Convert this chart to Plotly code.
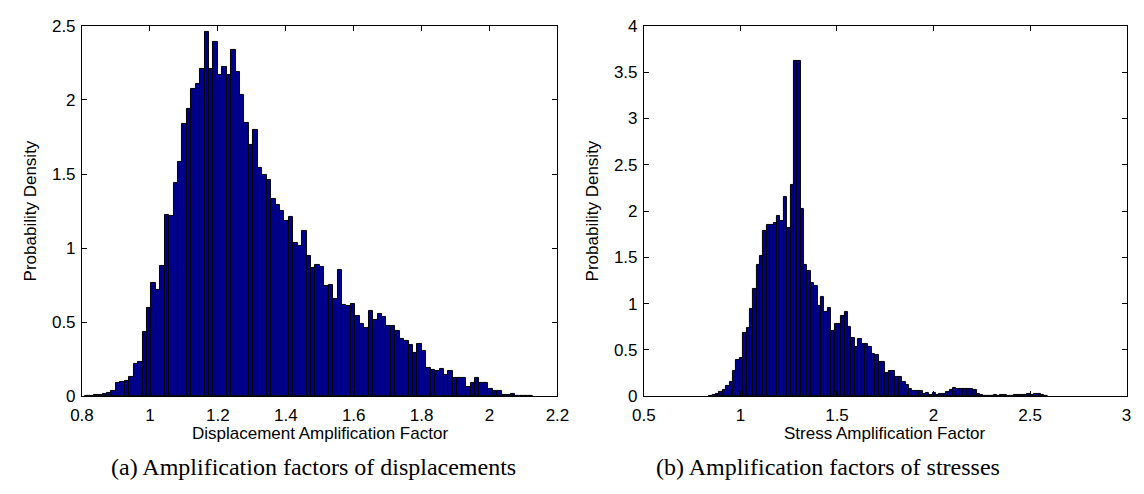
import numpy as np
import plotly.graph_objects as go

# ---- Data: (a) displacement amplification factor histogram (probability density) ----
disp_bin_start = 0.8084
disp_bin_width = 0.013055
disp_density = [
    0.002, 0.004, 0.005, 0.008, 0.017, 0.024, 0.032, 0.087, 0.097, 0.106,
    0.128, 0.216, 0.229, 0.433, 0.597, 0.764, 0.714, 0.879, 1.227, 1.219,
    1.442, 1.584, 1.835, 1.942, 2.074, 2.106, 2.210, 2.459, 2.210, 2.392,
    2.171, 2.225, 2.167, 2.336, 2.188, 2.037, 1.846, 1.699, 1.799, 1.541,
    1.496, 1.459, 1.335, 1.294, 1.253, 1.184, 1.208, 1.032, 1.013, 1.117,
    0.948, 0.866, 0.883, 0.872, 0.742, 0.749, 0.656, 0.851, 0.617, 0.610,
    0.621, 0.541, 0.489, 0.463, 0.576, 0.515, 0.558, 0.532, 0.474, 0.474,
    0.443, 0.383, 0.372, 0.343, 0.289, 0.354, 0.304, 0.191, 0.174, 0.167,
    0.187, 0.146, 0.172, 0.126, 0.120, 0.120, 0.063, 0.089, 0.120, 0.087,
    0.087, 0.048, 0.033, 0.033, 0.009, 0.009, 0.015, 0.002, 0.002, 0.003,
    0.002,
]

# ---- Data: (b) stress amplification factor histogram (probability density) ----
stress_bin_start = 0.8382
stress_bin_width = 0.01753
stress_density = [
    0.003, 0.010, 0.024, 0.045, 0.062, 0.114, 0.149, 0.270, 0.391, 0.416,
    0.679, 0.738, 0.939, 1.157, 1.420, 1.510, 1.780, 1.853, 1.849, 1.874,
    1.946, 1.894, 2.147, 1.818, 2.286, 3.620, 3.620, 2.026, 1.423, 1.351,
    1.223, 1.188, 0.980, 1.067, 0.911, 0.949, 0.703, 0.779, 0.779, 0.866,
    0.911, 0.752, 0.634, 0.530, 0.623, 0.561, 0.561, 0.530, 0.457, 0.450,
    0.374, 0.374, 0.253, 0.267, 0.277, 0.211, 0.211, 0.156, 0.121, 0.080,
    0.055, 0.052, 0.055, 0.024, 0.035, 0.014, 0.031, 0.010, 0.021, 0.021,
    0.045, 0.062, 0.090, 0.083, 0.083, 0.076, 0.076, 0.073, 0.062, 0.028,
    0.014, 0.003, 0.003, 0.005, 0.017, 0.007, 0.010, 0.010, 0.003, 0.005,
    0.017, 0.008, 0.017, 0.010, 0.024, 0.013, 0.020, 0.020, 0.017, 0.007,
]

disp_xticks = [0.8, 1, 1.2, 1.4, 1.6, 1.8, 2, 2.2]
disp_yticks = [0, 0.5, 1, 1.5, 2, 2.5]
stress_xticks = [0.5, 1, 1.5, 2, 2.5, 3]
stress_yticks = [0, 0.5, 1, 1.5, 2, 2.5, 3, 3.5, 4]

x_title_a = "Displacement Amplification Factor"
x_title_b = "Stress Amplification Factor"
y_title = "Probability Density"
caption_a = "(a) Amplification factors of displacements"
caption_b = "(b) Amplification factors of stresses"

# bin centers from bin edges
disp_x = disp_bin_start + disp_bin_width * (np.arange(len(disp_density)) + 0.5)
stress_x = stress_bin_start + stress_bin_width * (np.arange(len(stress_density)) + 0.5)

BAR_FILL = "#00008F"
SANS = "Liberation Sans, Arial, sans-serif"
SERIF = "Liberation Serif, Times New Roman, serif"

fig = go.Figure()
fig.add_trace(go.Bar(
    x=disp_x, y=disp_density, width=disp_bin_width,
    marker=dict(color=BAR_FILL, line=dict(color="black", width=1)),
    xaxis="x", yaxis="y", showlegend=False,
))
fig.add_trace(go.Bar(
    x=stress_x, y=stress_density, width=stress_bin_width,
    marker=dict(color=BAR_FILL, line=dict(color="black", width=1)),
    xaxis="x2", yaxis="y2", showlegend=False,
))

W, H = 1144, 494
y_dom = [1 - 394.3 / H, 1 - 9.3 / H]
xa_dom = [63.3 / W, 549 / W]
xb_dom = [637.3 / W, 1130.3 / W]

axis_common = dict(
    showline=True, linecolor="black", linewidth=1, mirror="ticks",
    ticks="inside", ticklen=5, tickcolor="black", tickwidth=1,
    showgrid=False, zeroline=False, ticklabeloverflow="allow",
)
x_font = dict(family=SANS, size=17, color="black")
y_font = dict(family=SANS, size=17, color="black")
title_font = dict(family=SANS, size=17, color="black")

fig.update_layout(
    width=W, height=H,
    margin=dict(l=0, r=0, t=0, b=0),
    paper_bgcolor="white", plot_bgcolor="white",
    bargap=0,
    xaxis=dict(domain=xa_dom, range=[0.8, 2.2], tickvals=disp_xticks,
               anchor="y", ticklabelstandoff=3, tickfont=x_font, **axis_common),
    yaxis=dict(domain=y_dom, range=[0, 2.5], tickvals=disp_yticks, anchor="x",
               ticklabelstandoff=2, tickfont=y_font,
               title=dict(text=y_title, font=title_font, standoff=10),
               **axis_common),
    xaxis2=dict(domain=xb_dom, range=[0.5, 3], tickvals=stress_xticks,
                anchor="y2", ticklabelstandoff=3, tickfont=x_font, **axis_common),
    yaxis2=dict(domain=y_dom, range=[0, 4], tickvals=stress_yticks, anchor="x2",
                ticklabelstandoff=2, tickfont=y_font,
                title=dict(text=y_title, font=title_font, standoff=10),
                **axis_common),
)

# x-axis titles placed just under the tick labels
for txt, dom in ((x_title_a, xa_dom), (x_title_b, xb_dom)):
    fig.add_annotation(text=txt, xref="paper", yref="paper",
                       x=(dom[0] + dom[1]) / 2, y=1 - 433 / H,
                       xanchor="center", yanchor="middle", showarrow=False,
                       font=title_font)

fig.add_annotation(text=caption_a, xref="paper", yref="paper",
                   x=300 / W, y=1 - 468 / H, xanchor="center", yanchor="middle",
                   showarrow=False, font=dict(family=SERIF, size=24, color="black"))
fig.add_annotation(text=caption_b, xref="paper", yref="paper",
                   x=825 / W, y=1 - 468 / H, xanchor="center", yanchor="middle",
                   showarrow=False, font=dict(family=SERIF, size=24, color="black"))

fig.write_html("out.html")
